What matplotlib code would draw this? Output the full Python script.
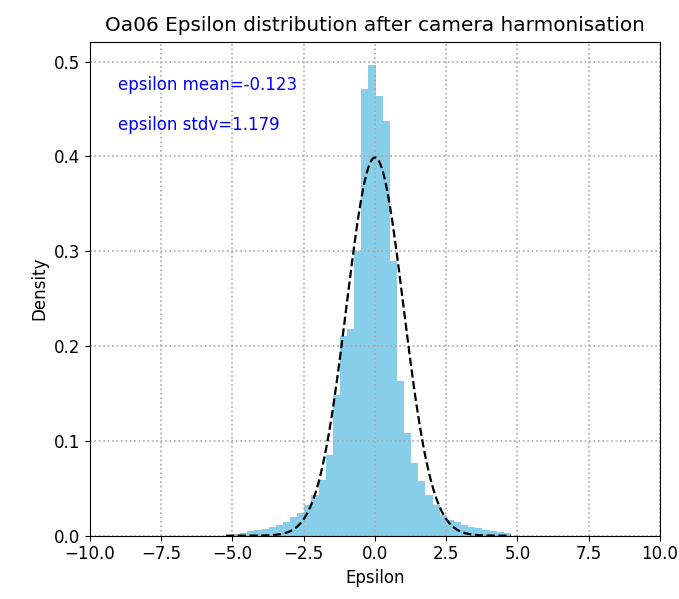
import numpy as np
import matplotlib
matplotlib.use("Agg")
import matplotlib.pyplot as plt

# histogram bin edges (width 0.25) and density heights
bin_start = -5.23
bin_width = 0.25
densities = [0.0008, 0.0018, 0.0032, 0.0046, 0.0060, 0.0074, 0.0095, 0.0116,
             0.0145, 0.0200, 0.0242, 0.0323, 0.0428, 0.0586, 0.0855, 0.1480,
             0.2110, 0.2175, 0.3007, 0.4716, 0.4960, 0.4640, 0.4370, 0.2895,
             0.1630, 0.1080, 0.0768, 0.0576, 0.0428, 0.0323, 0.0220, 0.0165,
             0.0140, 0.0113, 0.0095, 0.0078, 0.0060, 0.0050, 0.0036, 0.0025]
eps_mean = -0.123
eps_stdv = 1.179

plt.rcParams['font.size'] = 12

edges = bin_start + bin_width * np.arange(len(densities) + 1)
centers = (edges[:-1] + edges[1:]) / 2

fig = plt.figure(figsize=(6.79, 5.99), dpi=100)
ax = fig.add_axes([0.1325, 0.1057, 0.8395, 0.8243])

ax.hist(centers, bins=edges, weights=densities, color='skyblue')

xs = np.linspace(edges[0], edges[-1], 400)
ax.plot(xs, np.exp(-xs ** 2 / 2) / np.sqrt(2 * np.pi), 'k--', lw=1.6)

ax.text(-9, 0.475, f'epsilon mean={eps_mean}', color='blue', va='center')
ax.text(-9, 0.433, f'epsilon stdv={eps_stdv}', color='blue', va='center')

ax.set_xlim(-10, 10)
ax.grid(True, linestyle=':', color='darkgray', lw=1.2)
ax.set_xlabel('Epsilon')
ax.set_ylabel('Density')
ax.set_title('Oa06 Epsilon distribution after camera harmonisation', pad=8)

fig.savefig('out.png', dpi=100)
